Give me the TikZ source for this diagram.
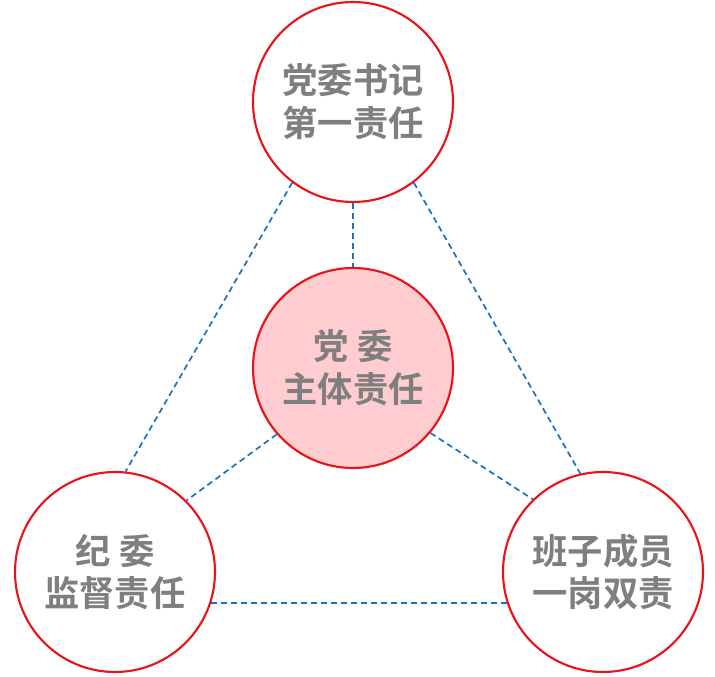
\documentclass[tikz,border=0pt]{standalone}
\usepackage{fontspec}
\setmainfont{Noto Sans CJK SC}[BoldFont={* Bold}]
\definecolor{ringred}{HTML}{E8141C}
\definecolor{linkblue}{HTML}{1F72BF}
\definecolor{txtgray}{HTML}{7F7F7F}
\definecolor{corefill}{HTML}{FFCDCF}
\begin{document}
\begin{tikzpicture}[x=0.75pt,y=-0.75pt]
  \tikzset{duty/.style={circle, draw=ringred, line width=1.6pt, fill=white,
      minimum size=150pt, inner sep=0pt, align=center, text=txtgray,
      font=\fontsize{26.5}{32}\selectfont\bfseries},
    link/.style={draw=linkblue, line width=1.3pt, dash pattern=on 4.5pt off 3pt}}
  \useasboundingbox (0,0) rectangle (715,676);

  \node[duty] (top) at (353,102) {党委书记\\第一责任};
  \node[duty, fill=corefill] (core) at (353,368) {党\ 委\\主体责任};
  \node[duty] (left) at (115,572) {纪\ 委\\监督责任};
  \node[duty] (right) at (603,572) {班子成员\\一岗双责};

  \draw[link] (top.270) -- (core.90);
  \draw[link] (top.233) -- (left.84);
  \draw[link] (top.307) -- (right.103);
  \draw[link] (left.-18) -- (right.198);
  \draw[link] (core.221) -- (left.45);
  \draw[link] (core.320) -- (right.134);

\end{tikzpicture}
\end{document}
